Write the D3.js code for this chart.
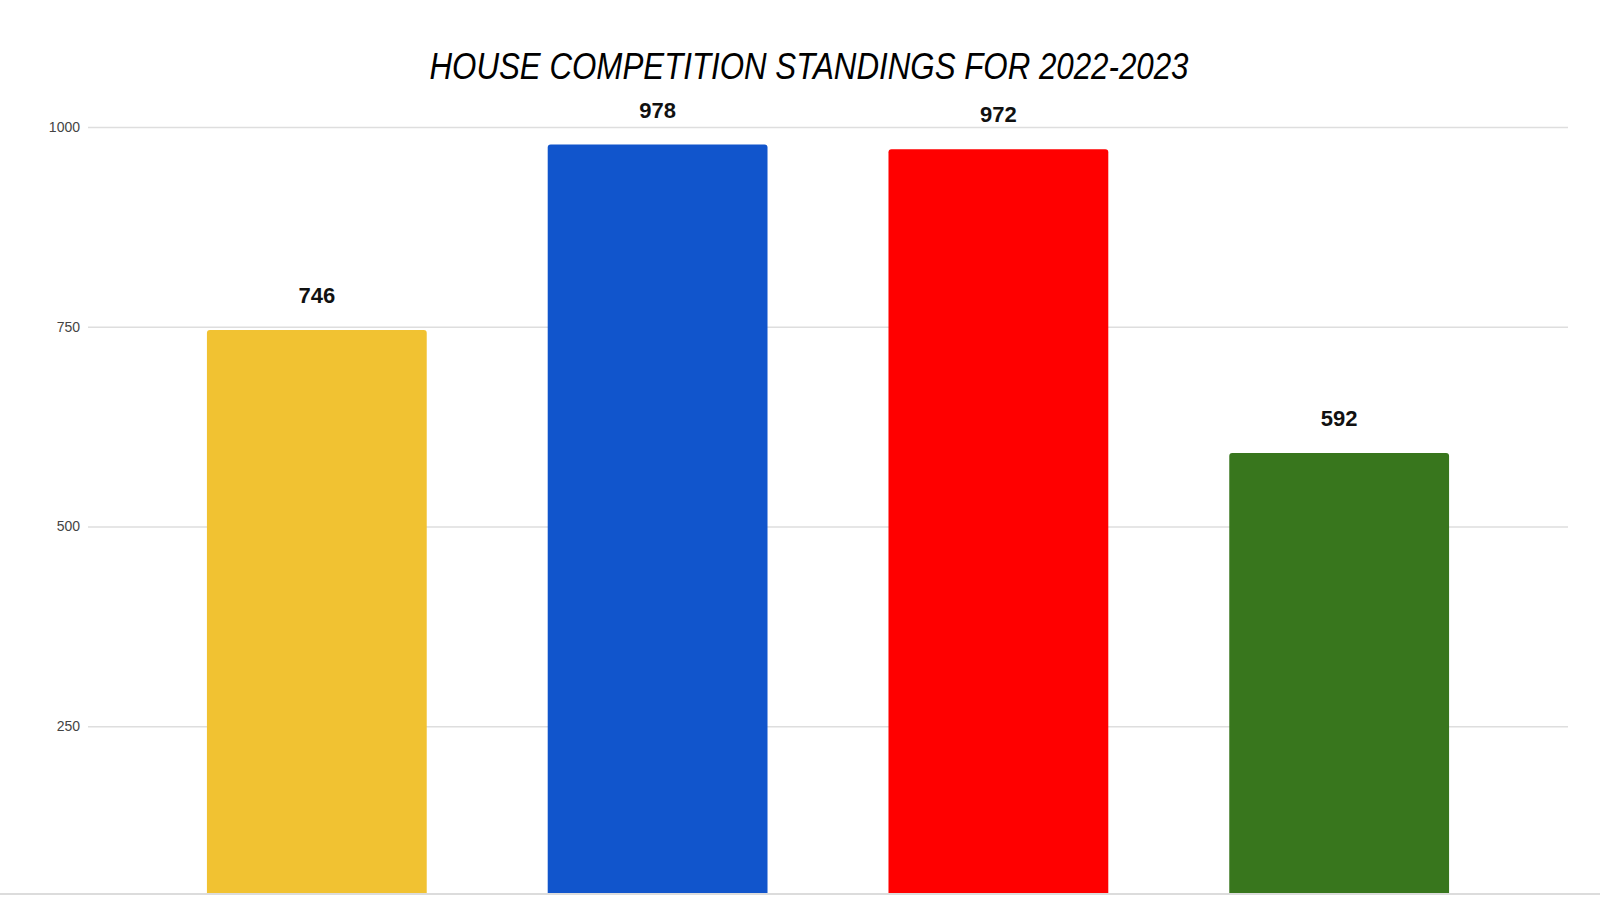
<!DOCTYPE html>
<html>
    <head>
        <title>house_standings_bar</title>
        <style>
            body { margin: 0; background: #fff; }
        </style>
    </head>
    <script src="https://d3js.org/d3.v7.min.js"></script>
    <body>
        <svg id="container" width="1600" height="900">
            <g id="body"></g>
        </svg>
    </body>
    <script>
        // data
        let houses = ["Yellow", "Blue", "Red", "Green"]
        let points = [746, 978, 972, 592]
        let colors = ["#f1c232", "#1155cc", "#ff0000", "#38761d"]
        let yTicks = [250, 500, 750, 1000]
        let yMin = 40   // visible bottom of the value axis
        let title = "HOUSE COMPETITION STANDINGS FOR 2022-2023"

        let svg = d3.select('#container')
        let body = d3.select('#body')

        let plotLeft = 88, plotRight = 1568, plotTop = 127, plotBottom = 894

        let xScale = d3.scaleBand()
            .domain(houses)
            .range([plotLeft, plotRight])
            .paddingInner(0.355)
            .paddingOuter(0.349)

        let yScale = d3.scaleLinear()
            .domain([yMin, 1000])
            .range([plotBottom, plotTop])

        // gridlines + tick labels
        let yAxis = d3.axisLeft(yScale)
            .tickValues(yTicks)
            .tickFormat(d3.format("d"))
            .tickSize(-(plotRight - plotLeft))
            .tickPadding(8)

        let axisG = body.append("g")
            .attr("transform", `translate(${plotLeft},0)`)
            .call(yAxis)
        axisG.select(".domain").remove()
        axisG.selectAll(".tick line")
            .attr("stroke", "#dedede")
            .attr("stroke-width", 1.5)
        axisG.selectAll(".tick text")
            .attr("fill", "#444")
            .style("font-family", "'Liberation Sans', Arial, sans-serif")
            .style("font-size", "14px")

        // bars with slightly rounded top corners
        let r = 3
        function barPath(d, i) {
            let x0 = xScale(houses[i])
            let x1 = x0 + xScale.bandwidth()
            let y0 = yScale(d)
            let y1 = yScale(yMin)
            return `M${x0},${y1} V${y0 + r} Q${x0},${y0} ${x0 + r},${y0} ` +
                   `H${x1 - r} Q${x1},${y0} ${x1},${y0 + r} V${y1} Z`
        }

        body.selectAll("path.bar").data(points)
            .enter().append("path")
            .attr("class", "bar")
            .attr("d", (d, i) => barPath(d, i))
            .attr("fill", (d, i) => colors[i])

        // value labels
        body.selectAll("text.val").data(points)
            .enter().append("text")
            .attr("class", "val")
            .attr("x", (d, i) => xScale(houses[i]) + xScale.bandwidth() / 2)
            .attr("y", d => yScale(d) - 27)
            .attr("text-anchor", "middle")
            .attr("fill", "#111")
            .style("font-family", "'Liberation Sans', Arial, sans-serif")
            .style("font-weight", "bold")
            .style("font-size", "22px")
            .text(d => d)

        // bottom border line
        body.append("line")
            .attr("x1", 0).attr("x2", 1600)
            .attr("y1", plotBottom).attr("y2", plotBottom)
            .attr("stroke", "#dcdcdc")
            .attr("stroke-width", 2)

        // title
        svg.append("text")
            .attr("x", 809)
            .attr("y", 79)
            .attr("text-anchor", "middle")
            .attr("textLength", 759)
            .attr("lengthAdjust", "spacingAndGlyphs")
            .attr("fill", "#000")
            .style("font-family", "'Liberation Sans', Arial, sans-serif")
            .style("font-style", "italic")
            .style("font-size", "36px")
            .text(title)
    </script>
</html>
